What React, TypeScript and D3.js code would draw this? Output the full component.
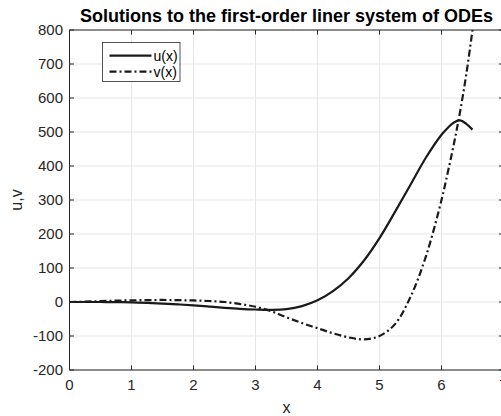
import React from "react";
import * as d3 from "d3";

const xs = [0, 0.25, 0.5, 0.75, 1, 1.25, 1.5, 1.75, 2, 2.25, 2.5, 2.75, 3, 3.25, 3.5, 3.75, 4, 4.25, 4.5, 4.75, 5, 5.25, 5.5, 5.75, 6, 6.1, 6.2, 6.3, 6.4, 6.5];
const uVals = [0, 0, 0, -0.5, -1, -2.5, -4.5, -7, -10, -13.5, -17, -20, -22, -23, -21, -12, 5, 32, 70, 122, 188, 265, 345, 425, 492, 512, 528, 534, 524, 507];
const vVals = [0, 1, 2.5, 4, 5, 5.5, 6, 5.5, 4.5, 3, 0, -6, -14, -27, -45, -62, -77, -92, -104, -110, -100, -65, 15, 135, 300, 380, 465, 560, 670, 800];
const xTicks = [0, 1, 2, 3, 4, 5, 6, 7];
const yTicks = [-200, -100, 0, 100, 200, 300, 400, 500, 600, 700, 800];
const titleText = "Solutions to the first-order liner system of ODEs";
const seriesNames = ["u(x)", "v(x)"];

const W = 501;
const H = 416;
const L = 69.5, R = 503.5, T = 30, B = 370;
const axisColor = "#262626";
const font = "'Liberation Sans', Arial, Helvetica, sans-serif";

export default function App() {
  const x = d3.scaleLinear().domain([0, 7]).range([L, R]);
  const y = d3.scaleLinear().domain([-200, 800]).range([B, T]);
  const line = (vals: number[]) =>
    d3.line<number>().x((_, i) => x(xs[i])).y((d) => y(d)).curve(d3.curveCatmullRom.alpha(0.5))(vals) || "";
  const tl = 4.5;
  const dash = "7,3,2,3";
  return (
    <svg width={W} height={H} style={{ position: "fixed", left: 0, top: 0, background: "#fff" }} fontFamily={font}>
      <rect x={0} y={0} width={W} height={H} fill="#fff" />
      {xTicks.map((t) => (
        <line key={"gx" + t} x1={x(t)} x2={x(t)} y1={T} y2={B} stroke="#e6e6e6" strokeWidth={1} />
      ))}
      {yTicks.map((t) => (
        <line key={"gy" + t} x1={L} x2={R} y1={y(t)} y2={y(t)} stroke="#e6e6e6" strokeWidth={1} />
      ))}
      <defs>
        <clipPath id="plotclip">
          <rect x={L} y={T} width={R - L} height={B - T} />
        </clipPath>
      </defs>
      <g clipPath="url(#plotclip)">
        <path d={line(uVals)} fill="none" stroke="#1a1a1a" strokeWidth={2.2} strokeLinejoin="round" />
        <path d={line(vVals)} fill="none" stroke="#1a1a1a" strokeWidth={2.2} strokeDasharray={dash} />
      </g>
      <g stroke={axisColor} strokeWidth={1} fill="none">
        <line x1={L} x2={L} y1={T} y2={B} />
        <line x1={L} x2={R} y1={B} y2={B} />
        <line x1={L} x2={R} y1={T} y2={T} />
        <line x1={R} x2={R} y1={T} y2={B} />
        {xTicks.map((t) => (
          <g key={"tx" + t}>
            <line x1={x(t)} x2={x(t)} y1={B} y2={B - tl} />
            <line x1={x(t)} x2={x(t)} y1={T} y2={T + tl} />
          </g>
        ))}
        {yTicks.map((t) => (
          <g key={"ty" + t}>
            <line x1={L} x2={L + tl} y1={y(t)} y2={y(t)} />
            <line x1={R} x2={R - tl} y1={y(t)} y2={y(t)} />
          </g>
        ))}
      </g>
      {xTicks.map((t) => (
        <text key={"lx" + t} x={x(t)} y={B + 20} textAnchor="middle" fontSize={15} fill={axisColor}>
          {t}
        </text>
      ))}
      {yTicks.map((t) => (
        <text key={"ly" + t} x={L - 6.5} y={y(t) + 5} textAnchor="end" fontSize={15} fill={axisColor}>
          {t}
        </text>
      ))}
      <text x={(L + R) / 2} y={413} textAnchor="middle" fontSize={16} fill={axisColor}>x</text>
      <text transform={`translate(22,${(T + B) / 2}) rotate(-90)`} textAnchor="middle" fontSize={16} fill={axisColor}>u,v</text>
      <text x={286.5} y={21.5} textAnchor="middle" fontSize={18} fontWeight="bold" fill="#000">{titleText}</text>
      <rect x={102.5} y={42.5} width={77.5} height={39} fill="#fff" stroke={axisColor} strokeWidth={0.8} />
      <line x1={109.5} x2={151.5} y1={55.7} y2={55.7} stroke="#1a1a1a" strokeWidth={2.2} />
      <line x1={109.5} x2={151.5} y1={71.7} y2={71.7} stroke="#1a1a1a" strokeWidth={2.2} strokeDasharray={dash} />
      <text x={153.5} y={60.5} fontSize={14} fill="#000">{seriesNames[0]}</text>
      <text x={153.5} y={76.5} fontSize={14} fill="#000">{seriesNames[1]}</text>
    </svg>
  );
}
